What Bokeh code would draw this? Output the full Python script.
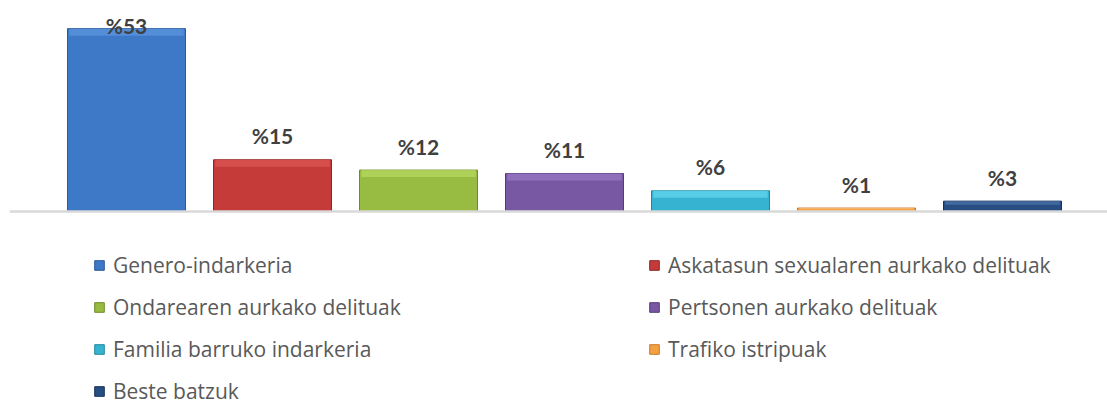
from bokeh.plotting import figure
from bokeh.models import ColumnDataSource, Range1d, Span, Legend, LegendItem
from bokeh.core.properties import value
from bokeh.embed import file_html
from bokeh.resources import INLINE

categories = [
    "Genero-indarkeria",
    "Askatasun sexualaren aurkako delituak",
    "Ondarearen aurkako delituak",
    "Pertsonen aurkako delituak",
    "Familia barruko indarkeria",
    "Trafiko istripuak",
    "Beste batzuk",
]
values = [53, 15, 12, 11, 6, 1, 3]
labels = ["%53", "%15", "%12", "%11", "%6", "%1", "%3"]
colors = ["#3D79C7", "#C43B3A", "#98BC42", "#7857A3", "#36B3D0", "#F5A043", "#284D82"]
highlights = ["#5A93DC", "#DB5553", "#B4D65E", "#9675C2", "#62D3EC", "#F9BC72", "#4670A8"]
edges = ["#2B5A97", "#8E2726", "#6E8B2C", "#553C79", "#25879E", "#C97A2A", "#18315A"]

W, H = 1107, 405
left_border = 9
frame_w = W - left_border
px_per_cat = 146.0
x0 = -117.0 / px_per_cat
x1 = x0 + frame_w / px_per_cat
px_per_unit = 3.45
base_px = 211
y1 = base_px / px_per_unit
y0 = -(H - base_px) / px_per_unit

xs = list(range(len(values)))
top_px = [v * px_per_unit for v in values]
label_px = [min(t + 24, 186) for t in top_px]
y_offsets = [-(lp - t) for lp, t in zip(label_px, top_px)]
bevel = [v - min(7.0 / px_per_unit, v * 0.35) for v in values]

src = ColumnDataSource(dict(x=xs, top=values, cat=categories, color=colors,
                            hl=highlights, bev=bevel,
                            edge=edges, lab=labels, yoff=y_offsets))

p = figure(width=W, height=H, output_backend="svg", toolbar_location=None,
           x_range=Range1d(x0, x1), y_range=Range1d(y0, y1),
           min_border_left=left_border, min_border_right=0,
           min_border_top=0, min_border_bottom=0)
p.axis.visible = False
p.grid.visible = False
p.outline_line_color = None
p.background_fill_color = "white"
p.border_fill_color = "white"

p.add_layout(Span(location=0, dimension="width", line_color="#D9D9D9", line_width=2.5))

bw = 118 / px_per_cat
bars = p.vbar(x="x", top="top", bottom=0, width=bw, source=src,
              fill_color="color", line_color="edge", line_width=1)
p.vbar(x="x", top="top", bottom="bev", width=bw * 0.97, source=src,
       fill_color="hl", line_color=None, fill_alpha=0.8)

p.text(x="x", y="top", text="lab", source=src, y_offset="yoff",
       text_align="center", text_baseline="middle",
       text_font=value("Lato"), text_font_style="bold", text_font_size="21px",
       text_color="#404040")

items = [LegendItem(label=c, renderers=[bars], index=i) for i, c in enumerate(categories)]
legend = Legend(items=items, orientation="horizontal", ncols=2,
                location=(84, 0), padding=0, margin=0, spacing=13,
                glyph_width=12, glyph_height=12, label_standoff=8,
                label_width=522, label_height=29,
                label_text_font="Open Sans", label_text_font_size="21px",
                label_text_color="#595959",
                border_line_color=None, background_fill_alpha=0)
p.add_layout(legend, "center")

open("out.html", "w").write(file_html(p, INLINE))
